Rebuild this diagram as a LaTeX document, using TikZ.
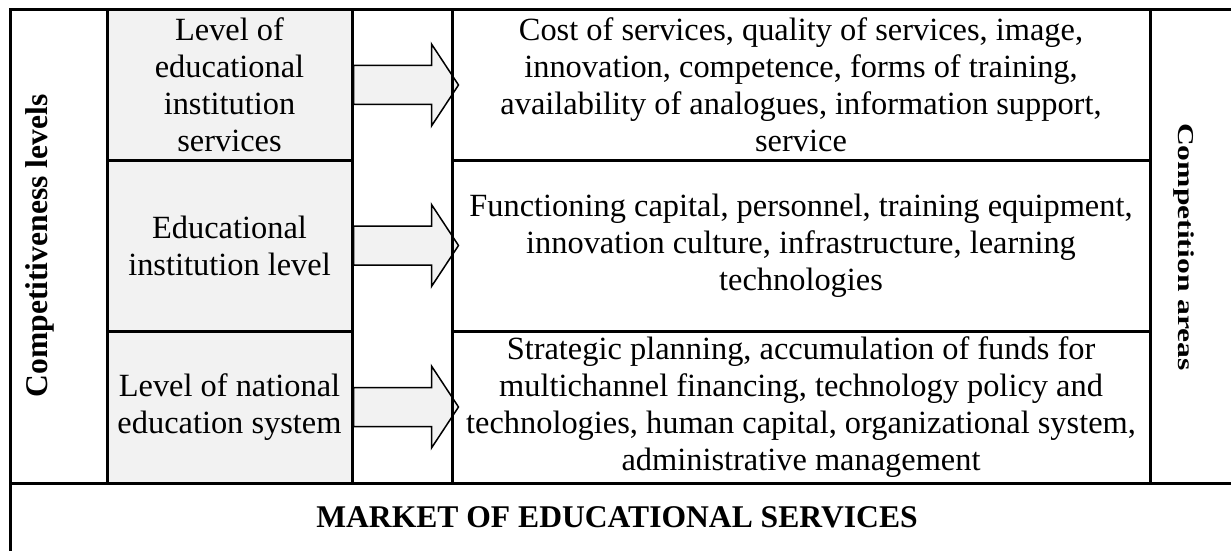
\documentclass[tikz,border=0pt]{standalone}
\usepackage{fontspec}
\setmainfont{Liberation Serif}
\usepackage{graphicx}
\definecolor{boxgray}{HTML}{F2F2F2}
\tikzset{
  cell/.style={draw, line width=1.5pt, inner sep=0pt, align=center,
    font=\fontsize{16.2pt}{18.5pt}\selectfont},
  levelbox/.style={cell, fill=boxgray, minimum width=122.5pt},
  areabox/.style={cell, minimum width=349pt},
  arrowbody/.style={draw, fill=boxgray, line width=0.75pt, line join=miter},
  headtext/.style={inner sep=0pt, font=\fontsize{15.8pt}{18.5pt}\selectfont\bfseries}
}
% block arrow starting on the east side of a level box
\newcommand{\levelarrow}[1]{%
  \draw[arrowbody] (#1.east) ++(0,-19.5) -- ++(78,0) -- ++(0,-21.5) -- ++(27,41)
    -- ++(-27,41) -- ++(0,-21.5) -- ++(-78,0) -- cycle;}
\begin{document}
\begin{tikzpicture}[x=0.5pt,y=-0.5pt]
  \useasboundingbox (0,0) rectangle (1231,551);
  \clip (0,0) rectangle (1231,551);

  % columns
  \node[cell, minimum width=48.5pt, minimum height=236.5pt] (levelscol) at (58.5,246.5) {};
  \node[headtext, rotate=90] (levelstext) at (40,246) {Competitiveness levels};

  \node[levelbox, minimum height=75pt] (lvl1) at (229.5,85) {Level of\\educational\\institution\\services};
  \node[levelbox, minimum height=85.5pt] (lvl2) at (229.5,245.5) {Educational\\institution level};
  \node[levelbox, minimum height=76pt] (lvl3) at (229.5,407) {Level of national\\education system};

  \levelarrow{lvl1}
  \levelarrow{lvl2}
  \levelarrow{lvl3}

  \node[cell, minimum width=50pt, minimum height=236.5pt] (arrowcol) at (402,246.5) {};

  \node[areabox, minimum height=75pt] (area1) at (801,85) {Cost of services, quality of services, image,\\innovation, competence, forms of training,\\availability of analogues, information support,\\service};
  \node[areabox, minimum height=85.5pt] (area2) at (801,245.5) {Functioning capital, personnel, training equipment,\\innovation culture, infrastructure, learning\\technologies};
  \node[areabox, minimum height=76pt] (area3) at (801,407) {Strategic planning, accumulation of funds for\\multichannel financing, technology policy and\\technologies, human capital, organizational system,\\administrative management};

  \node[cell, minimum width=42pt, minimum height=236.5pt] (areascol) at (1192,246.5) {};
  \node[headtext, rotate=-90] (areastext) at (1184,247) {\scalebox{1}[0.72]{Competition areas}};

  % bottom row
  \node[cell, minimum width=612pt, minimum height=35.5pt] (market) at (622,518.5) {};
  \node[headtext] (markettext) at (617,517) {MARKET OF EDUCATIONAL SERVICES};
\end{tikzpicture}
\end{document}
